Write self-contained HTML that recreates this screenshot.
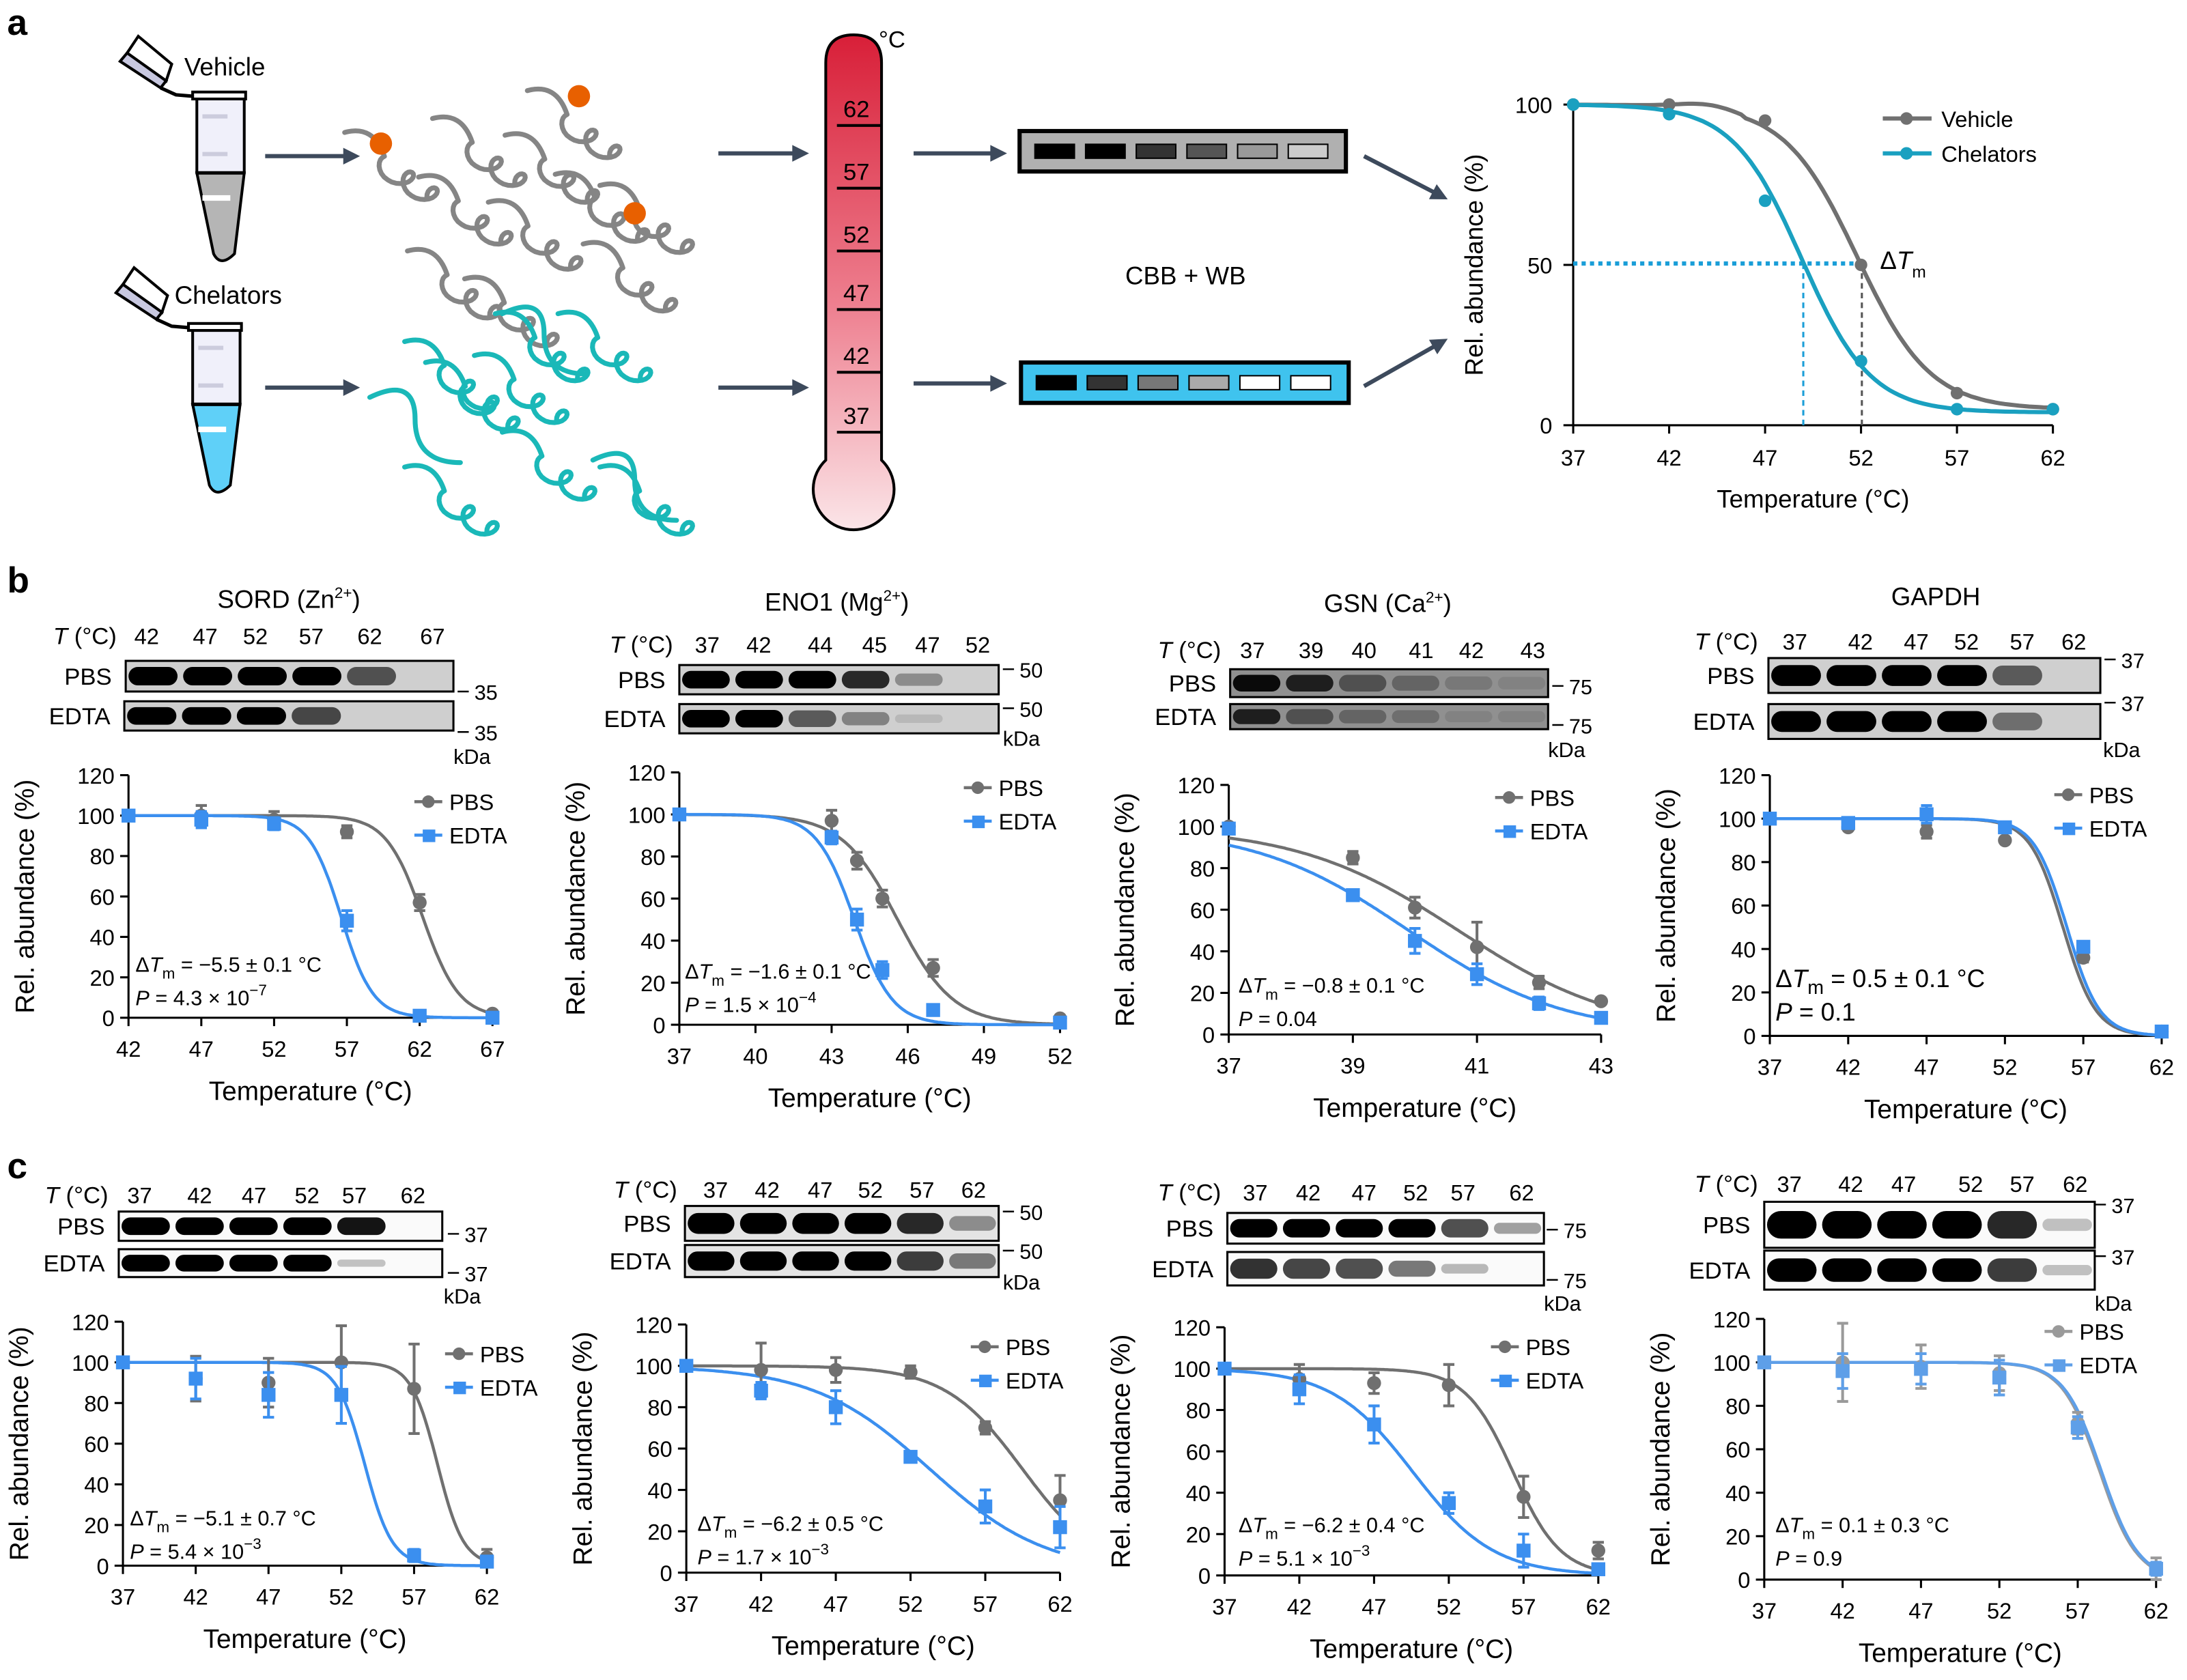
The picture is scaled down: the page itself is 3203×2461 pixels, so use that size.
<!DOCTYPE html>
<html><head><meta charset="utf-8">
<style>
html,body{margin:0;padding:0;background:#fff;}
svg{display:block;font-family:"Liberation Sans","DejaVu Sans",sans-serif;}
</style></head>
<body>
<svg id="s" xmlns="http://www.w3.org/2000/svg" width="3203" height="2461" viewBox="0 0 1568 1205"></svg>
<script>
var h='';
function T(x,y,s,fs,anchor,extra){h+='<text x="'+x+'" y="'+y+'" font-size="'+(fs||16)+'" text-anchor="'+(anchor||'start')+'" '+(extra||'')+'>'+s+'</text>';}
function L(x1,y1,x2,y2,c,w,extra){h+='<line x1="'+x1+'" y1="'+y1+'" x2="'+x2+'" y2="'+y2+'" stroke="'+(c||'#000')+'" stroke-width="'+(w||1.5)+'" '+(extra||'')+'/>';}
function arrow(x1,y1,x2,y2){var a=Math.atan2(y2-y1,x2-x1),l=12,w=6;
 L(x1,y1,x2-Math.cos(a)*6,y2-Math.sin(a)*6,'#3d4a5c',3);
 var p1=[x2-l*Math.cos(a)+w*Math.sin(a),y2-l*Math.sin(a)-w*Math.cos(a)],p2=[x2-l*Math.cos(a)-w*Math.sin(a),y2-l*Math.sin(a)+w*Math.cos(a)];
 h+='<polygon points="'+x2+','+y2+' '+p1+' '+p2+'" fill="#3d4a5c"/>';}
T(5,25,'a',26,'start','font-weight="bold"');T(5,425,'b',26,'start','font-weight="bold"');T(5,845,'c',26,'start','font-weight="bold"');
function tube(x,y,fill){
 h+='<g transform="translate('+x+','+y+')">';
 h+='<polygon points="-50,-26 -42,-38 -18,-18 -22,-6" fill="#fff" stroke="#000" stroke-width="2"/>';
 h+='<polygon points="-55,-20 -50,-26 -22,-6 -26,-1" fill="#c8c8e0" stroke="#000" stroke-width="2"/>';
 h+='<path d="M-26,-1 L-15,4 L-3,5" fill="none" stroke="#000" stroke-width="2.5"/>';
 h+='<rect x="-3" y="2" width="38" height="5" fill="#fff" stroke="#000" stroke-width="2"/>';
 h+='<path d="M0,7 L34,7 L34,60 L0,60 Z" fill="#f0f0fa" stroke="#000" stroke-width="2"/>';
 h+='<path d="M0,60 L34,60 L27,118 Q17,128 12,118 Z" fill="'+fill+'" stroke="#000" stroke-width="2"/>';
 h+='<line x1="0" y1="60" x2="34" y2="60" stroke="#000" stroke-width="2.5"/>';
 h+='<rect x="4" y="18" width="18" height="3" fill="#ccd"/><rect x="4" y="45" width="18" height="3" fill="#ccd"/><rect x="4" y="76" width="20" height="4" fill="#fff"/>';
 h+='</g>';}
tube(141,64,'#b5b5b5');T(132,54,'Vehicle',18);
tube(138,230,'#5fd0f8');T(125,218,'Chelators',18);
function squig(x,y,c,curly,sc){sc=sc||1;var d='M'+x+','+y;
 if(curly){
  d+=' q'+(22*sc)+','+(-6*sc)+' '+(30*sc)+','+(18*sc);
  var cx=x+30*sc,cy=y+18*sc;
  for(var t=0;t<=2.2;t+=0.05){var px=cx+t*18*sc-8*sc*Math.sin(2*Math.PI*t),py=cy+t*12*sc+8*sc*(1-Math.cos(2*Math.PI*t))*0.9;d+=' L'+px.toFixed(1)+','+py.toFixed(1);}
 } else {d+=' q'+(25*sc)+','+(-12*sc)+' '+(25*sc)+','+(12*sc)+' t'+(25*sc)+','+(24*sc);}
 h+='<path d="'+d+'" fill="none" stroke="'+c+'" stroke-width="3.5" stroke-linecap="round" stroke-linejoin="round"/>';}
var g=[[247,110],[310,100],[362,112],[300,142],[350,160],[398,140],[430,148],[292,195],[333,215],[378,80],[418,190]];
g.forEach(function(p){squig(p[0],p[1]-15,'#858585',1,0.95);});
h+='<circle cx="273" cy="103" r="8" fill="#e86000"/><circle cx="415" cy="69" r="8" fill="#e86000"/><circle cx="455" cy="153" r="8" fill="#e86000"/>';
var b=[[315,335],[300,320],[350,330],[365,300],[410,300],[370,385],[300,410],[440,410]];
b.forEach(function(p){squig(p[0]-10,p[1]-75,'#1ab8b8',1,0.95);});
squig(265,285,'#1ab8b8',0,1.3);squig(360,225,'#1ab8b8',0,1.2);squig(425,330,'#1ab8b8',0,1.2);
arrow(190,112,258,112);arrow(515,110,580,110);arrow(655,110,722,110);
arrow(190,278,258,278);arrow(515,278,580,278);arrow(655,275,722,275);
arrow(978,112,1038,143);arrow(978,277,1038,243);
h+='<defs><linearGradient id="tg" x1="0" y1="0" x2="0" y2="1"><stop offset="0" stop-color="#d81f38"/><stop offset="0.55" stop-color="#ee8090"/><stop offset="1" stop-color="#fbe5e8"/></linearGradient></defs>';
h+='<path d="M592,330 L592,45 Q592,25 612,25 Q632,25 632,45 L632,330 A29,29 0 1 1 592,330 Z" fill="url(#tg)" stroke="#000" stroke-width="2"/>';
[[62,90],[57,135],[52,180],[47,222],[42,267],[37,310]].forEach(function(p){L(600,p[1],632,p[1],'#000',2);T(614,p[1]-6,p[0],17,'middle');});
T(630,34,'°C',17);
function gelA(x,y,w,hh,bg,cols){h+='<rect x="'+x+'" y="'+y+'" width="'+w+'" height="'+hh+'" fill="'+bg+'" stroke="#000" stroke-width="3"/>';
 var n=cols.length,lw=(w-16)/n;cols.forEach(function(c,i){h+='<rect x="'+(x+8+i*lw+3)+'" y="'+(y+hh/2-5)+'" width="'+(lw-8)+'" height="10" fill="'+c+'" stroke="#000" stroke-width="1"/>';});}
gelA(731,94,234,29,'#b0b0b0',['#000','#000','#333','#555','#999','#ccc']);
gelA(732,260,235,29,'#3fc3ee',['#000','#333','#777','#aaa','#fff','#fff']);
T(850,204,'CBB + WB',18,'middle');
(function(){var X=function(t){return 1128+(t-37)*344/25},Y=function(v){return 305-v*2.3};
 L(1128,74,1128,305);L(1128,305,1472,305);
 [0,50,100].forEach(function(v){L(1121,Y(v),1128,Y(v));T(1113,Y(v)+6,v,16,'end');});
 [37,42,47,52,57,62].forEach(function(t){L(X(t),305,X(t),311);T(X(t),334,t,16,'middle');});
 function cur(f,c){var d='';for(var t=37;t<=62;t+=0.25){d+=(d?' L':'M')+X(t).toFixed(1)+','+Y(f(t)).toFixed(1);}h+='<path d="'+d+'" fill="none" stroke="'+c+'" stroke-width="3"/>';}
 var gv=function(t){return 5+95/(1+Math.exp((t-51.8)/1.9))+ (t<46? 1.5*Math.exp(-Math.pow((t-44)/2,2)):0)};
 var tv=function(t){return 4+96/(1+Math.exp((t-48.9)/1.8))};
 L(1128,189,1335,189,'#1a9ed8',3,'stroke-dasharray="3,3"');
 L(1293,189,1293,305,'#1a9ed8',1.5,'stroke-dasharray="4,3"');L(1335,189,1335,305,'#555',1.5,'stroke-dasharray="4,3"');
 cur(gv,'#707070');cur(tv,'#1aa0c0');
 [[37,100],[42,100],[47,95],[52,50],[57,10],[62,5]].forEach(function(p){h+='<circle cx="'+X(p[0])+'" cy="'+Y(p[1])+'" r="4.5" fill="#707070"/>';});
 [[37,100],[42,97],[47,70],[52,20],[57,5],[62,5]].forEach(function(p){h+='<circle cx="'+X(p[0])+'" cy="'+Y(p[1])+'" r="4.5" fill="#1aa0c0"/>';});
 L(1350,85,1385,85,'#707070',3);h+='<circle cx="1367" cy="85" r="4.5" fill="#707070"/>';T(1392,91,'Vehicle',16);
 L(1350,110,1385,110,'#1aa0c0',3);h+='<circle cx="1367" cy="110" r="4.5" fill="#1aa0c0"/>';T(1392,116,'Chelators',16);
 T(1348,193,'Δ<tspan font-style="italic">T</tspan><tspan font-size="12" dy="6">m</tspan>',18);
 T(1300,364,'Temperature (°C)',18,'middle');
 T(1063,190,'Rel. abundance (%)',18,'middle','transform="rotate(-90 1063 190)"');
})();
function gel(x,y,w,hh,ints,bg){bg=bg||'#cfcfcf';h+='<rect x="'+x+'" y="'+y+'" width="'+w+'" height="'+hh+'" fill="'+bg+'" stroke="#000" stroke-width="1.5"/>';
 var n=ints.length,lw=w/n;ints.forEach(function(v,i){if(v<=0.02)return;var g=Math.round(200-200*v);var bh=Math.max(3,(hh*0.6)*Math.min(1,0.4+v));
  h+='<rect x="'+(x+i*lw+2)+'" y="'+(y+hh/2-bh/2)+'" width="'+(lw-4)+'" height="'+bh+'" rx="'+(bh/2)+'" fill="rgb('+g+','+g+','+g+')"/>';});}
function sub(o){
 var X=function(t){return o.x0+(t-o.xt[0])*(o.x1-o.x0)/(o.xt[o.xt.length-1]-o.xt[0])};
 var Y=function(v){return o.y0-v*(o.y0-o.y1)/120};
 if(o.title)T(o.title[0],o.title[1],o.title[2],18,'middle');
 T(o.tl[0],o.tl[1],'<tspan font-style="italic">T</tspan> (°C)',17);
 o.tv.forEach(function(x,i){T(x,o.tl[1],o.lanes[i],16,'middle');});
 gel(o.g1[0],o.g1[1],o.g1[2],o.g1[3],o.i1,o.bg);gel(o.g2[0],o.g2[1],o.g2[2],o.g2[3],o.i2,o.bg);
 T(o.g1[0]-10,o.g1[1]+o.g1[3]/2+6,'PBS',17,'end');T(o.g2[0]-10,o.g2[1]+o.g2[3]/2+6,'EDTA',17,'end');
 o.mk.forEach(function(m){L(m[0]-12,m[1]-6,m[0]-4,m[1]-6,'#000',1.2);T(m[0],m[1],o.mw,15);});
 T(o.kda[0],o.kda[1],'kDa',15);
 L(o.x0,o.y1,o.x0,o.y0);L(o.x0,o.y0,o.x1,o.y0);
 for(var v=0;v<=120;v+=20){L(o.x0-6,Y(v),o.x0,Y(v));T(o.x0-10,Y(v)+6,v,16,'end');}
 o.xt.forEach(function(t){L(X(t),o.y0,X(t),o.y0+6);T(X(t),o.y0+28,t,16,'middle');});
 T((o.x0+o.x1)/2,o.y0+59,'Temperature (°C)',19,'middle');
 var yl=o.x0-68,ym=(o.y0+o.y1)/2;T(yl,ym,'Rel. abundance (%)',19,'middle','transform="rotate(-90 '+yl+' '+ym+')"');
 var cg=o.cg||'#707070',cb=o.cb||'#3b8fef';
 function cur(p,c){var d='',a=o.xt[0],z=o.xt[o.xt.length-1];for(var t=a;t<=z+0.001;t+=(z-a)/200){var v=100/(1+Math.exp((t-p[0])/p[1]));d+=(d?' L':'M')+X(t).toFixed(1)+','+Y(v).toFixed(1);}h+='<path d="'+d+'" fill="none" stroke="'+c+'" stroke-width="2.2"/>';}
 function pts(arr,c,sq){arr.forEach(function(p){var x=X(p[0]),y=Y(p[1]);if(p[2]){var e=p[2]*(o.y0-o.y1)/120;L(x,y-e,x,y+e,c,2);L(x-4,y-e,x+4,y-e,c,2);L(x-4,y+e,x+4,y+e,c,2);}
  if(sq)h+='<rect x="'+(x-5)+'" y="'+(y-5)+'" width="10" height="10" fill="'+c+'"/>';else h+='<circle cx="'+x+'" cy="'+y+'" r="5" fill="'+c+'"/>';});}
 cur(o.fg,cg);cur(o.fb,cb);pts(o.pg,cg,false);pts(o.pb,cb,true);
 var lx=o.lg[0],ly=o.lg[1];L(lx,ly,lx+20,ly,cg,2.2);h+='<circle cx="'+(lx+10)+'" cy="'+ly+'" r="4.5" fill="'+cg+'"/>';T(lx+25,ly+6,'PBS',16);
 L(lx,ly+24,lx+20,ly+24,cb,2.2);h+='<rect x="'+(lx+6)+'" y="'+(ly+20)+'" width="9" height="9" fill="'+cb+'"/>';T(lx+25,ly+30,'EDTA',16);
 var fs=o.afs||15;
 T(o.an[0],o.an[1],'Δ<tspan font-style="italic">T</tspan><tspan font-size="'+(fs-4)+'" dy="5">m</tspan><tspan dy="-5"> = '+o.an[2]+'</tspan>',fs);
 T(o.an[0],o.an[1]+24,'<tspan font-style="italic">P</tspan> = '+o.an[3],fs);
}
sub({title:[207,436,'SORD (Zn<tspan font-size="11" dy="-7">2+</tspan><tspan dy="7">)</tspan>'],tl:[38,462],tv:[105,147,183,223,265,310],lanes:[42,47,52,57,62,67],
 g1:[90,474,235,22],g2:[89,503,236,21],i1:[1,1,1,1,.6,0],i2:[1,1,1,.65,0,0],mk:[[340,502],[340,531]],mw:35,kda:[325,548],
 x0:92,x1:353,xt:[42,47,52,57,62,67],y0:730,y1:556,fg:[62.2,1.25],fb:[56.6,1.1],
 pg:[[42,100],[47,100,5],[52,98,4],[57,92,3],[62,57,4],[67,2]],pb:[[42,100],[47,98,4],[52,96,3],[57,48,5],[62,1],[67,0]],lg:[297,575],an:[97,697,'−5.5 ± 0.1 °C','4.3 × 10<tspan font-size="11" dy="-7">−7</tspan>']});
sub({title:[600,438,'ENO1 (Mg<tspan font-size="11" dy="-7">2+</tspan><tspan dy="7">)</tspan>'],tl:[437,468],tv:[507,544,588,627,665,701],lanes:[37,42,44,45,47,52],
 g1:[487,477,229,21],g2:[487,505,229,21],i1:[1,1,1,.8,.3,0],i2:[1,1,.55,.35,.08,0],mk:[[731,486],[731,514]],mw:50,kda:[719,535],
 x0:487,x1:760,xt:[37,40,43,46,49,52],y0:735,y1:554,fg:[45.6,1.1],fb:[43.9,0.75],
 pg:[[37,100],[43,97,5],[44,78,4],[45,60,4],[47,27,4],[52,3]],pb:[[37,100],[43,89,3],[44,50,5],[45,26,4],[47,7],[52,1]],lg:[691,565],an:[491,702,'−1.6 ± 0.1 °C','1.5 × 10<tspan font-size="11" dy="-7">−4</tspan>']});
sub({title:[995,439,'GSN (Ca<tspan font-size="11" dy="-7">2+</tspan><tspan dy="7">)</tspan>'],tl:[830,472],tv:[898,940,978,1019,1055,1099],lanes:[37,39,40,41,42,43],
 g1:[882,480,228,20],g2:[882,505,228,18],bg:'#909090',i1:[.95,.85,.6,.5,.4,.35],i2:[.85,.6,.5,.45,.35,.35],mk:[[1125,498],[1125,526]],mw:75,kda:[1110,543],
 x0:881,x1:1148,xt:[37,39,41,43],y0:742,y1:563,fg:[40.7,1.3],fb:[39.9,1.25],
 pg:[[37,100],[39,85,3],[40,61,5],[41,42,12],[42,25,3],[43,16]],pb:[[37,99],[39,67],[40,45,6],[41,29,5],[42,15,3],[43,8]],lg:[1072,572],an:[888,712,'−0.8 ± 0.1 °C','0.04']});
sub({title:[1388,434,'GAPDH'],tl:[1215,466],tv:[1287,1334,1374,1410,1450,1487],lanes:[37,42,47,52,57,62],
 g1:[1268,472,238,25],g2:[1268,505,238,25],i1:[1,1,1,1,.55,0],i2:[1,1,1,1,.45,0],mk:[[1521,479],[1521,510]],mw:37,kda:[1508,543],
 x0:1269,x1:1550,xt:[37,42,47,52,57,62],y0:743,y1:556,fg:[55.7,1.05],fb:[55.95,1.05],
 pg:[[37,100],[42,96],[47,94,3],[52,90],[57,36,2],[62,2]],pb:[[37,100],[42,98],[47,102,4],[52,96],[57,41],[62,2]],lg:[1473,570],an:[1273,708,'0.5 ± 0.1 °C','0.1'],afs:18});
sub({tl:[32,863],tv:[100,143,182,220,254,296],lanes:[37,42,47,52,57,62],
 g1:[85,869,232,21],g2:[85,896,232,20],bg:'#fafafa',i1:[1,1,1,1,.9,0],i2:[1,1,1,1,.03,0],mk:[[333,891],[333,919]],mw:37,kda:[318,935],
 x0:88,x1:349,xt:[37,42,47,52,57,62],y0:1123,y1:948,fg:[58.6,0.9],fb:[53.6,0.95],
 pg:[[37,100],[42,92,11],[47,90,12],[52,100,18],[57,87,22],[62,4,4]],pb:[[37,100],[42,92,10],[47,84,11],[52,84,14],[57,5,3],[62,2]],lg:[319,971],an:[93,1094,'−5.1 ± 0.7 °C','5.4 × 10<tspan font-size="11" dy="-7">−3</tspan>']});
sub({tl:[440,859],tv:[513,550,588,624,661,698],lanes:[37,42,47,52,57,62],
 g1:[491,865,225,25],g2:[491,893,225,23],bg:'#e4e4e4',i1:[1,1,1,1,.8,.3],i2:[1,1,1,1,.7,.4],mk:[[731,875],[731,903]],mw:50,kda:[719,925],
 x0:492,x1:760,xt:[37,42,47,52,57,62],y0:1128,y1:950,fg:[59.5,2.6],fb:[53.3,3.9],
 pg:[[37,100],[42,98,13],[47,98,6],[52,97,3],[57,70,3],[62,35,12]],pb:[[37,100],[42,88,4],[47,80,8],[52,56],[57,32,8],[62,22,10]],lg:[696,966],an:[500,1098,'−6.2 ± 0.5 °C','1.7 × 10<tspan font-size="11" dy="-7">−3</tspan>']});
sub({tl:[830,861],tv:[900,938,978,1015,1049,1091],lanes:[37,42,47,52,57,62],
 g1:[880,870,227,22],g2:[880,898,227,24],bg:'#fafafa',i1:[1,1,1,1,.6,.2],i2:[.75,.65,.6,.4,.08,0],mk:[[1121,888],[1121,924]],mw:75,kda:[1107,940],
 x0:878,x1:1146,xt:[37,42,47,52,57,62],y0:1130,y1:952,fg:[56.3,1.6],fb:[49.6,2.7],
 pg:[[37,100],[42,95,7],[47,93,5],[52,92,10],[57,38,10],[62,12,4]],pb:[[37,100],[42,90,7],[47,73,9],[52,35,5],[57,12,8],[62,3]],lg:[1069,966],an:[888,1099,'−6.2 ± 0.4 °C','5.1 × 10<tspan font-size="11" dy="-7">−3</tspan>']});
sub({tl:[1215,855],tv:[1283,1327,1365,1413,1450,1488],lanes:[37,42,47,52,57,62],
 g1:[1265,862,237,33],g2:[1265,897,237,28],bg:'#fafafa',i1:[1,1,1,1,.8,.04],i2:[1,1,1,1,.7,.04],mk:[[1514,870],[1514,907]],mw:37,kda:[1502,940],
 x0:1265,x1:1546,xt:[37,42,47,52,57,62],y0:1133,y1:946,fg:[58.4,1.2],fb:[58.5,1.2],cg:'#9a9a9a',cb:'#5e9fe8',
 pg:[[37,100],[42,100,18],[47,98,10],[52,95,8],[57,72,5],[62,5,5]],pb:[[37,100],[42,96,8],[47,97,7],[52,93,8],[57,70,5],[62,5,3]],lg:[1466,955],an:[1273,1099,'0.1 ± 0.3 °C','0.9']});
document.getElementById('s').innerHTML=h;
</script>
</body></html>
